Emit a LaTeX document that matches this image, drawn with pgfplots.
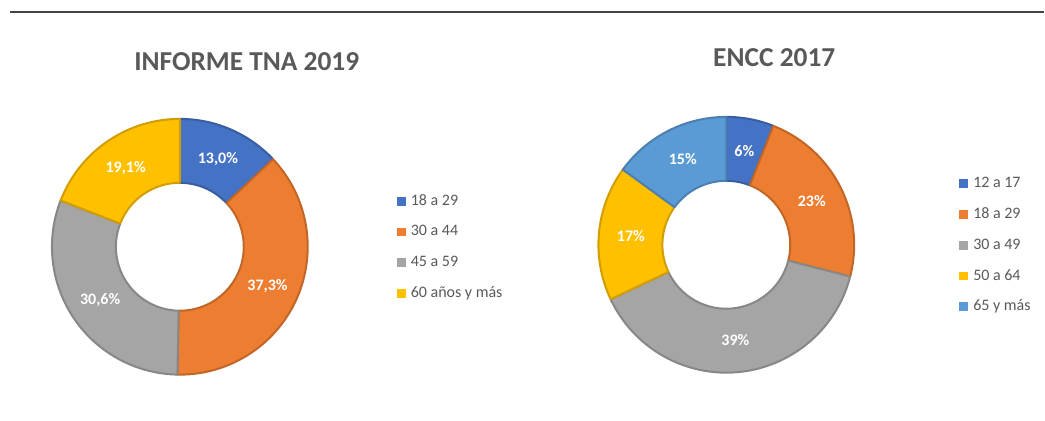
\documentclass[border=0pt]{standalone}
\usepackage{fontspec}
\setmainfont{Carlito}
\usepackage{pgfplots}
\usepackage{pgfplotstable}
\pgfplotsset{compat=1.18}

\definecolor{xblue}{HTML}{4472C4}
\definecolor{xorange}{HTML}{ED7D31}
\definecolor{xgray}{HTML}{A5A5A5}
\definecolor{xgold}{HTML}{FFC000}
\definecolor{xlblue}{HTML}{5B9BD5}
\definecolor{txt}{HTML}{595959}
\definecolor{rulecol}{HTML}{444444}

% INFORME TNA 2019
\pgfplotstableread[col sep=semicolon]{
grupo;valor;color;etiqueta
18 a 29;13.0;xblue;13,0\%
30 a 44;37.3;xorange;37,3\%
45 a 59;30.6;xgray;30,6\%
60 años y más;19.1;xgold;19,1\%
}\tna

% ENCC 2017
\pgfplotstableread[col sep=semicolon]{
grupo;valor;color;etiqueta
12 a 17;6;xblue;6\%
18 a 29;23;xorange;23\%
30 a 49;39;xgray;39\%
50 a 64;17;xgold;17\%
65 y más;15;xlblue;15\%
}\encc

% donut: table, centre x, centre y (pixel units of the axis)
\newcommand{\donut}[3]{%
  \pgfplotstablegetrowsof{#1}%
  \pgfmathtruncatemacro{\nlast}{\pgfplotsretval-1}%
  \gdef\angstart{90}%
  \foreach \k in {0,...,\nlast}{%
    \pgfplotstablegetelem{\k}{valor}\of{#1}\let\val\pgfplotsretval
    \pgfplotstablegetelem{\k}{color}\of{#1}\let\col\pgfplotsretval
    \pgfplotstablegetelem{\k}{etiqueta}\of{#1}\let\lab\pgfplotsretval
    \pgfmathsetmacro{\angend}{\angstart-3.6*\val}%
    \pgfmathsetmacro{\angmid}{(\angstart+\angend)/2}%
    \filldraw[fill=\col, draw=\col!82!black, line width=1pt, line join=round]
      ([shift={(\angstart:64pt)}]axis cs:#2,#3)
      arc[start angle=\angstart, end angle=\angend, radius=64pt]
      -- ([shift={(\angend:32pt)}]axis cs:#2,#3)
      arc[start angle=\angend, end angle=\angstart, radius=32pt] -- cycle;
    \node[text=white, font=\bfseries\fontsize{8}{9.6}\selectfont]
      at ([shift={(\angmid:48pt)}]axis cs:#2,#3) {\lab};
    \global\let\angstart\angend
  }%
}

\pgfplotsset{
  donutaxis/.style={
    x=0.5pt, y=0.5pt, y dir=reverse,
    ymin=0, ymax=421,
    hide axis, clip=false,
    anchor=north west,
    legend cell align=left,
    legend style={draw=none, fill=none, anchor=north west,
      font=\fontsize{8}{9.6}\selectfont, text=txt,
      row sep=7.4pt,
      nodes={inner sep=0pt, text height=6pt, text depth=2pt},
      /tikz/every odd column/.style={column sep=2.5pt}},
    legend image code/.code={\fill[##1, draw=none] (0pt,-2.2pt) rectangle (4.4pt,2.2pt);},
  },
}

\begin{document}
\begin{tikzpicture}
\begin{axis}[donutaxis, at={(0pt,0pt)}, xmin=0, xmax=522.5,
    legend style={at={(axis cs:391,189)}}]
  \path (axis cs:0,0) rectangle (axis cs:522.5,421);
  \addlegendimage{fill=xblue}   \addlegendentry{18 a 29}
  \addlegendimage{fill=xorange} \addlegendentry{30 a 44}
  \addlegendimage{fill=xgray}   \addlegendentry{45 a 59}
  \addlegendimage{fill=xgold}   \addlegendentry{60 años y más}
  \draw[rulecol, line width=1pt] (axis cs:10,12) -- (axis cs:522.5,12);
  \node[font=\bfseries\fontsize{13.7}{16}\selectfont, text=txt]
    at (axis cs:247,62) {INFORME TNA 2019};
  \pgfplotsextra{\donut{\tna}{180}{247}}
\end{axis}
\begin{axis}[donutaxis, at={(261.25pt,0pt)}, xmin=522.5, xmax=1045,
    legend style={at={(axis cs:954,171.5)}}]
  \path (axis cs:522.5,0) rectangle (axis cs:1045,421);
  \addlegendimage{fill=xblue}   \addlegendentry{12 a 17}
  \addlegendimage{fill=xorange} \addlegendentry{18 a 29}
  \addlegendimage{fill=xgray}   \addlegendentry{30 a 49}
  \addlegendimage{fill=xgold}   \addlegendentry{50 a 64}
  \addlegendimage{fill=xlblue}  \addlegendentry{65 y más}
  \draw[rulecol, line width=1pt] (axis cs:522.5,12) -- (axis cs:1045,12);
  \node[font=\bfseries\fontsize{13.7}{16}\selectfont, text=txt]
    at (axis cs:775,58) {ENCC 2017};
  \pgfplotsextra{\donut{\encc}{727}{245}}
\end{axis}
\end{tikzpicture}
\end{document}
